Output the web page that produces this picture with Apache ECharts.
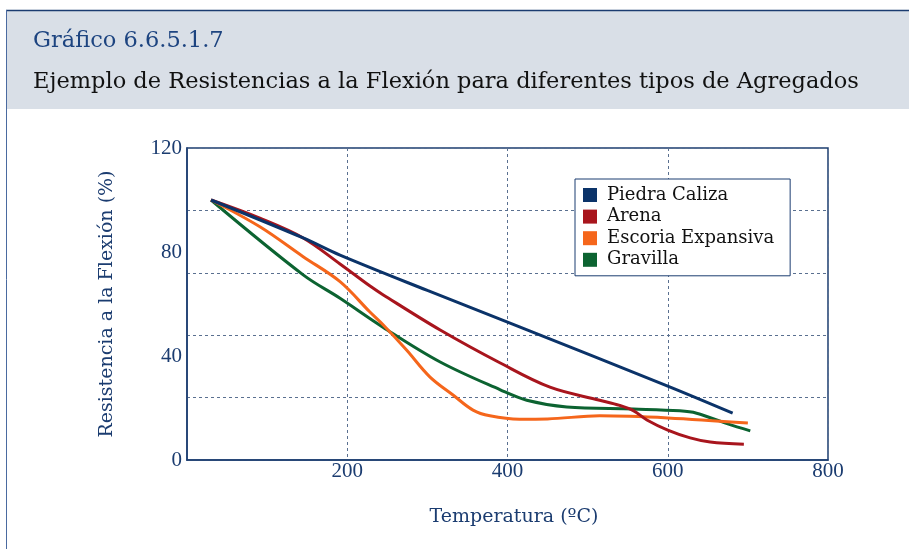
<!DOCTYPE html>
<html>
<head>
<meta charset="utf-8">
<script src="https://cdn.jsdelivr.net/npm/echarts@6/dist/echarts.min.js"></script>
<style>html,body{margin:0;padding:0;background:#fff}#c{width:909px;height:549px}</style>
</head>
<body>
<div id="c"></div>
<script>
var titleText = 'Gráfico 6.6.5.1.7';
var subtitleText = 'Ejemplo de Resistencias a la Flexión para diferentes tipos de Agregados';
var xAxisName = 'Temperatura (ºC)';
var yAxisName = 'Resistencia a la Flexión (%)';
var seriesNames = ['Piedra Caliza', 'Arena', 'Escoria Expansiva', 'Gravilla'];
var seriesColors = ['#0b3369', '#a8151d', '#f5661b', '#0c6331'];

var piedraCaliza = [[30,100],[145,85.4],[191,78.8],[300,65.2],[415,51.2],[600,28.4],[681,18]];
var arena = [[30,100],[91,93],[145,85.4],[191,75.4],[228,67],[245,63.5],[316,50],[391,37.3],[453,28],[515,23],[540,21],[557,19],[574,15.4],[600,11.5],[628,8.5],[653,6.9],[695,6.1]];
var escoria = [[30,100],[91,89.7],[145,78.2],[191,68.6],[228,57],[245,51.9],[274,42.3],[303,32],[332,25],[357,19.2],[378,17],[415,15.7],[450,15.8],[515,17],[600,16.2],[700,14.2]];
var gravilla = [[30,100],[145,71.2],[191,62.2],[245,51],[316,37.7],[391,27],[424,23],[474,20.4],[557,19.6],[615,18.9],[636,18],[674,14],[703,11.2]];
var seriesData = [piedraCaliza, arena, escoria, gravilla];

var FONT = '"Liberation Serif", serif';
var WIDEFONT = '"DejaVu Serif", serif';
var NAVY = '#1b3c70';

var chart = echarts.init(document.getElementById('c'));
chart.setOption({
  animation: false,
  backgroundColor: '#ffffff',
  textStyle: { fontFamily: FONT },
  graphic: [
    { type: 'rect', shape: { x: 6, y: 10, width: 903, height: 99 }, style: { fill: '#d9dfe7' }, z: -10 },
    { type: 'line', shape: { x1: 6, y1: 10.5, x2: 909, y2: 10.5 }, style: { stroke: '#1b3c70', lineWidth: 1.5 } },
    { type: 'line', shape: { x1: 6.5, y1: 10, x2: 6.5, y2: 549 }, style: { stroke: '#4a6aa0', lineWidth: 1 } }
  ],
  title: [
    { text: titleText, left: 28, top: 25, textStyle: { fontFamily: WIDEFONT, fontSize: 22.5, fontWeight: 'normal', color: '#1d4480' } },
    { text: subtitleText, left: 28, top: 66, textStyle: { fontFamily: WIDEFONT, fontSize: 22.5, fontWeight: 'normal', color: '#111111' } }
  ],
  legend: {
    orient: 'vertical',
    left: 575, top: 179,
    data: seriesNames,
    icon: 'rect',
    itemWidth: 14, itemHeight: 14,
    itemGap: 3.6,
    itemTextGap: 10,
    padding: [7, 16, 7, 8],
    backgroundColor: '#ffffff',
    borderColor: NAVY, borderWidth: 1,
    textStyle: { fontFamily: WIDEFONT, fontSize: 18, color: '#111111', padding: [0, 0, 0, 5] }
  },
  grid: { left: 187, right: 81, top: 148, bottom: 89, show: true, borderColor: NAVY, borderWidth: 1.5, backgroundColor: 'transparent' },
  xAxis: {
    type: 'value', min: 0, max: 800, interval: 200,
    name: xAxisName, nameLocation: 'middle', nameGap: 48,
    nameTextStyle: { fontFamily: WIDEFONT, fontSize: 19, color: NAVY, padding: [0, 0, 0, 13] },
    axisLine: { show: true, lineStyle: { color: NAVY, width: 1.5 } },
    axisTick: { show: false },
    axisLabel: { fontFamily: FONT, fontSize: 21, color: NAVY, margin: 1, formatter: function (v) { return v === 0 ? '' : v; } },
    splitLine: { show: true, lineStyle: { color: '#5a7090', type: [3, 3], width: 1 } }
  },
  yAxis: [
    {
      type: 'value', min: 0, max: 120, interval: 40,
      name: yAxisName, nameLocation: 'middle', nameGap: 70,
      nameTextStyle: { fontFamily: WIDEFONT, fontSize: 19, color: NAVY },
      axisLine: { show: true, lineStyle: { color: NAVY, width: 1.5 } },
      axisTick: { show: false },
      axisLabel: { fontFamily: FONT, fontSize: 21, color: NAVY, margin: 5 },
      splitLine: { show: false }
    },
    {
      type: 'value', min: 0, max: 120, interval: 24, position: 'left',
      axisLine: { show: false }, axisTick: { show: false }, axisLabel: { show: false },
      splitLine: { show: true, lineStyle: { color: '#5a7090', type: [3, 3], width: 1 } }
    }
  ],
  series: seriesNames.map(function (n, i) {
    return {
      name: n, type: 'line', yAxisIndex: 0,
      data: seriesData[i],
      smooth: 0.35,
      showSymbol: false,
      color: seriesColors[i],
      lineStyle: { width: 3, color: seriesColors[i] },
      z: 5 - i
    };
  })
});
</script>
</body>
</html>
